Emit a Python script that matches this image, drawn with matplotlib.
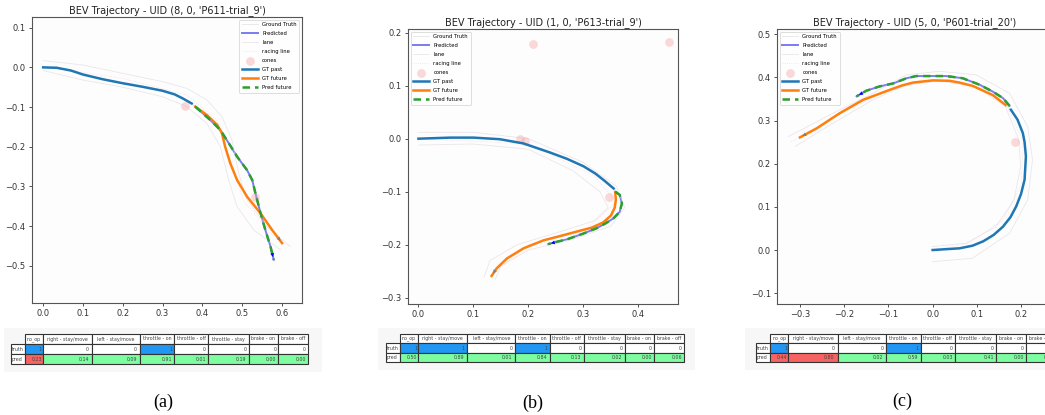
import matplotlib
matplotlib.use("Agg")
import matplotlib.pyplot as plt
from matplotlib.table import Table
from matplotlib.patches import Rectangle

# --- columns of the action table
cols = ["no_op", "right - stay/move", "left - stay/move", "throttle - on",
        "throttle - off", "throttle - stay", "brake - on", "brake - off"]

# --- panel (a)
title_a = "BEV Trajectory - UID (8, 0, 'P611-trial_9')"
past_a = [(0.0, 0.0), (0.034, -0.001), (0.07, -0.008), (0.1, -0.018), (0.15, -0.030), (0.2, -0.040),
          (0.25, -0.049), (0.3, -0.059), (0.33, -0.068), (0.35, -0.078), (0.373, -0.091)]
gtfut_a = [(0.382, -0.099), (0.411, -0.120), (0.437, -0.145), (0.449, -0.166), (0.457, -0.200),
           (0.470, -0.242), (0.487, -0.284), (0.512, -0.326), (0.546, -0.368), (0.575, -0.410),
           (0.600, -0.443)]
predfut_a = [(0.382, -0.099), (0.420, -0.133), (0.445, -0.158), (0.466, -0.191), (0.487, -0.225),
             (0.512, -0.259), (0.525, -0.284), (0.533, -0.317), (0.546, -0.368), (0.558, -0.410),
             (0.571, -0.452), (0.579, -0.485)]
laneL_a = [(0, 0.017), (0.1, 0.006), (0.2, -0.015), (0.3, -0.036), (0.361, -0.053), (0.411, -0.082),
           (0.449, -0.124), (0.474, -0.183), (0.491, -0.267), (0.512, -0.334), (0.562, -0.402), (0.621, -0.452)]
laneR_a = [(0, -0.008), (0.1, -0.032), (0.2, -0.05), (0.3, -0.074), (0.361, -0.099), (0.411, -0.141),
           (0.445, -0.2), (0.466, -0.284), (0.487, -0.351), (0.529, -0.41), (0.596, -0.46)]
race_a = [(0, 0.002), (0.2, -0.028), (0.361, -0.07), (0.436, -0.133), (0.47, -0.234),
          (0.503, -0.335), (0.579, -0.427)]
cones_a = [(0.357, -0.097), (0.533, -0.326)]
xlim_a, ylim_a = (-0.028, 0.65), (-0.594, 0.127)
truth_a = [1, 0, 0, 1, 0, 0, 0, 0]
pred_a = [0.23, 0.14, 0.09, 0.91, 0.01, 0.19, 0.00, 0.00]

# --- panel (b)
title_b = "BEV Trajectory - UID (1, 0, 'P613-trial_9')"
past_b = [(0, 0), (0.058, 0.002), (0.1, 0.002), (0.148, -0.001), (0.191, -0.009), (0.239, -0.026),
          (0.27, -0.038), (0.3, -0.052), (0.322, -0.066), (0.339, -0.080), (0.355, -0.094)]
gtfut_b = [(0.358, -0.103), (0.359, -0.115), (0.357, -0.130), (0.350, -0.145), (0.336, -0.158),
           (0.315, -0.168), (0.30, -0.172), (0.264, -0.182), (0.227, -0.192), (0.191, -0.207),
           (0.161, -0.226), (0.142, -0.245), (0.133, -0.259)]
predfut_b = [(0.358, -0.100), (0.366, -0.106), (0.370, -0.122), (0.366, -0.138), (0.355, -0.150),
             (0.340, -0.160), (0.324, -0.169), (0.30, -0.179), (0.27, -0.19), (0.25, -0.195),
             (0.236, -0.199)]
laneL_b = [(0, 0.012), (0.1, 0.012), (0.2, 0.0), (0.3, -0.045), (0.36, -0.09), (0.375, -0.13),
           (0.35, -0.165), (0.28, -0.19), (0.2, -0.21), (0.15, -0.24), (0.14, -0.265)]
laneR_b = [(0, -0.012), (0.1, -0.01), (0.2, -0.02), (0.28, -0.06), (0.33, -0.1), (0.345, -0.13),
           (0.32, -0.155), (0.25, -0.178), (0.18, -0.2), (0.13, -0.23), (0.12, -0.26)]
race_b = [(0, 0.0), (0.2, -0.01), (0.32, -0.07), (0.36, -0.12), (0.3, -0.175), (0.2, -0.2), (0.135, -0.255)]
cones_b = [(0.208, 0.179), (0.456, 0.183), (0.184, -0.001), (0.194, -0.004), (0.347, -0.111)]
xlim_b, ylim_b = (-0.019, 0.472), (-0.312, 0.207)
truth_b = [1, 1, 0, 1, 0, 0, 0, 0]
pred_b = [0.50, 0.89, 0.01, 0.84, 0.13, 0.02, 0.00, 0.06]

# --- panel (c)
title_c = "BEV Trajectory - UID (5, 0, 'P601-trial_20')"
past_c = [(0, 0), (0.061, 0.004), (0.090, 0.010), (0.114, 0.02), (0.138, 0.035), (0.159, 0.054),
          (0.176, 0.076), (0.189, 0.101), (0.200, 0.130), (0.208, 0.163), (0.211, 0.217),
          (0.208, 0.250), (0.204, 0.271), (0.192, 0.302), (0.177, 0.325)]
gtfut_c = [(0.165, 0.336), (0.136, 0.359), (0.091, 0.380), (0.060, 0.388), (0.038, 0.392),
           (0.001, 0.393), (-0.044, 0.388), (-0.070, 0.381), (-0.097, 0.371), (-0.157, 0.348),
           (-0.21, 0.317), (-0.262, 0.282), (-0.3, 0.261)]
predfut_c = [(0.174, 0.334), (0.159, 0.352), (0.136, 0.367), (0.106, 0.383), (0.068, 0.398),
             (0.031, 0.403), (-0.007, 0.403), (-0.037, 0.403), (-0.059, 0.398), (-0.089, 0.386),
             (-0.12, 0.379), (-0.15, 0.369), (-0.172, 0.356)]
laneL_c = [(-0.326, 0.263), (-0.225, 0.317), (-0.135, 0.363), (-0.059, 0.406), (0.015, 0.414),
           (0.098, 0.406), (0.174, 0.363), (0.215, 0.286), (0.226, 0.209), (0.215, 0.116),
           (0.174, 0.039), (0.09, -0.019), (0, -0.027)]
laneR_c = [(-0.311, 0.24), (-0.225, 0.294), (-0.135, 0.348), (-0.059, 0.383), (0.015, 0.391),
           (0.098, 0.379), (0.165, 0.332), (0.195, 0.255), (0.199, 0.193), (0.184, 0.116),
           (0.143, 0.054), (0.076, 0.016), (0, 0.008)]
race_c = [(-0.32, 0.25), (-0.2, 0.32), (-0.1, 0.37), (0.0, 0.395), (0.1, 0.385), (0.17, 0.33),
          (0.205, 0.25), (0.2, 0.15), (0.16, 0.07), (0.08, 0.015), (0.0, 0.0)]
cones_c = [(0.187, 0.251)]
xlim_c, ylim_c = (-0.352, 0.27), (-0.125, 0.512)
truth_c = [1, 0, 0, 1, 0, 0, 0, 0]
pred_c = [0.44, 0.80, 0.02, 0.59, 0.03, 0.41, 0.00, 0.00]

W, H = 1045, 415
fig = plt.figure(figsize=(W / 100, H / 100), dpi=100)
fig.patch.set_facecolor("white")


def px_rect(l, t, r, b):
    return [l / W, 1 - b / H, (r - l) / W, (b - t) / H]


def xs(pts):
    return [p[0] for p in pts]


def ys(pts):
    return [p[1] for p in pts]


def draw_traj(ax, title, past, gtfut, predfut, laneL, laneR, race, cones, xlim, ylim, legloc):
    ax.set_facecolor("#fefdfe")
    gt = past + gtfut
    ax.plot(xs(gt), ys(gt), color="#cccccc", lw=0.6, alpha=0.5, label="Ground Truth")
    ax.plot(xs(predfut), ys(predfut), color="#4444ee", lw=1.4, alpha=0.7, label="Predicted")
    ax.plot(xs(laneL), ys(laneL), color="#ddd6dc", lw=0.6, alpha=0.6, label="lane")
    ax.plot(xs(laneR), ys(laneR), color="#ddd6dc", lw=0.6, alpha=0.6)
    ax.plot(xs(race), ys(race), color="#f0b8c8", lw=0.6, ls=":", alpha=0.5, label="racing line")
    ax.scatter(xs(cones), ys(cones), s=40, color="#f4a0a0", alpha=0.4, lw=0, label="cones", zorder=2)
    ax.plot(xs(past), ys(past), color="#1f77b4", lw=1.8, label="GT past", zorder=3,
            solid_joinstyle="round")
    ax.plot(xs(gtfut), ys(gtfut), color="#ff7f0e", lw=1.8, label="GT future", zorder=3,
            solid_joinstyle="round")
    ax.plot(xs(predfut), ys(predfut), color="#2ca02c", lw=1.8, ls=(0, (3, 2)), label="Pred future", zorder=4)
    ax.annotate("", xy=gtfut[-1], xytext=gtfut[-2],
                arrowprops=dict(arrowstyle="-|>", color="gray", lw=0, mutation_scale=7), zorder=5)
    ax.annotate("", xy=predfut[-1], xytext=predfut[-2],
                arrowprops=dict(arrowstyle="-|>", color="blue", lw=0, mutation_scale=7), zorder=5)
    ax.set_xlim(*xlim)
    ax.set_ylim(*ylim)
    ax.set_title(title, fontsize=7, pad=3, color="#222222")
    ax.tick_params(labelsize=6, length=2.5, width=0.6, colors="#333333", pad=2)
    for s in ax.spines.values():
        s.set_color("#555555")
        s.set_linewidth(0.8)
    leg = ax.legend(loc=legloc, fontsize=3.8, handlelength=3, labelspacing=0.75,
                    borderpad=0.5, framealpha=0.9, edgecolor="#cccccc", fancybox=True)
    leg.get_frame().set_linewidth(0.5)


def draw_table(ax, truth, pred):
    ax.set_axis_off()
    tb = Table(ax, bbox=[0, 0, 1, 1])
    widths = [14, 18, 49, 48, 34, 34, 41, 29, 30]
    tot = sum(widths)
    h = 1 / 3
    for j, lab in enumerate([""] + cols):
        c = tb.add_cell(0, j, widths[j] / tot, h, text=lab, loc="center", facecolor="white")
        if j == 0:
            c.visible_edges = ""
    rows = [("truth", [str(v) for v in truth], ["#2196f3" if v == 1 else "white" for v in truth]),
            ("pred", ["%.2f" % p for p in pred],
             ["#7dfca0" if (p >= 0.5) == bool(t) else "#f76262" for p, t in zip(pred, truth)])]
    for i, (lab, texts, colors) in enumerate(rows, start=1):
        tb.add_cell(i, 0, widths[0] / tot, h, text=lab, loc="left", facecolor="white")
        for j, (txt, fc) in enumerate(zip(texts, colors), start=1):
            tb.add_cell(i, j, widths[j] / tot, h, text=txt, loc="right", facecolor=fc)
    tb.auto_set_font_size(False)
    tb.set_fontsize(3.4)
    for cell in tb.get_celld().values():
        cell.set_edgecolor("#333333")
        cell.set_linewidth(0.8)
        cell.get_text().set_color("#444444")
        cell.PAD = 0.06
    ax.add_table(tb)


panels = [
    (title_a, past_a, gtfut_a, predfut_a, laneL_a, laneR_a, race_a, cones_a, xlim_a, ylim_a,
     "upper right", (32, 17, 302, 303), (11, 334, 308, 364), truth_a, pred_a, "(a)", (163, 402), (4, 328, 322, 372)),
    (title_b, past_b, gtfut_b, predfut_b, laneL_b, laneR_b, race_b, cones_b, xlim_b, ylim_b,
     "upper left", (408, 29, 678, 304), (386, 334, 684, 362), truth_b, pred_b, "(b)", (533, 403), (378, 328, 695, 370)),
    (title_c, past_c, gtfut_c, predfut_c, laneL_c, laneR_c, race_c, cones_c, xlim_c, ylim_c,
     "upper left", (777, 29, 1052, 304), (756, 334, 1056, 362), truth_c, pred_c, "(c)", (902, 401), (745, 328, 1045, 370)),
]

for (title, past, gtfut, predfut, laneL, laneR, race, cones, xlim, ylim, legloc,
     arect, trect, truth, pred, cap, cpos, bg) in panels:
    fig.patches.append(Rectangle((bg[0] / W, 1 - bg[3] / H), (bg[2] - bg[0]) / W, (bg[3] - bg[1]) / H,
                                 transform=fig.transFigure, facecolor="#f7f7f7", edgecolor="none", zorder=-5))
    ax = fig.add_axes(px_rect(*arect))
    draw_traj(ax, title, past, gtfut, predfut, laneL, laneR, race, cones, xlim, ylim, legloc)
    tax = fig.add_axes(px_rect(*trect))
    tax.set_zorder(2)
    draw_table(tax, truth, pred)
    fig.text(cpos[0] / W, 1 - cpos[1] / H, cap, family="Liberation Serif", fontsize=13,
             ha="center", va="center")

fig.savefig("out.png", dpi=100)
